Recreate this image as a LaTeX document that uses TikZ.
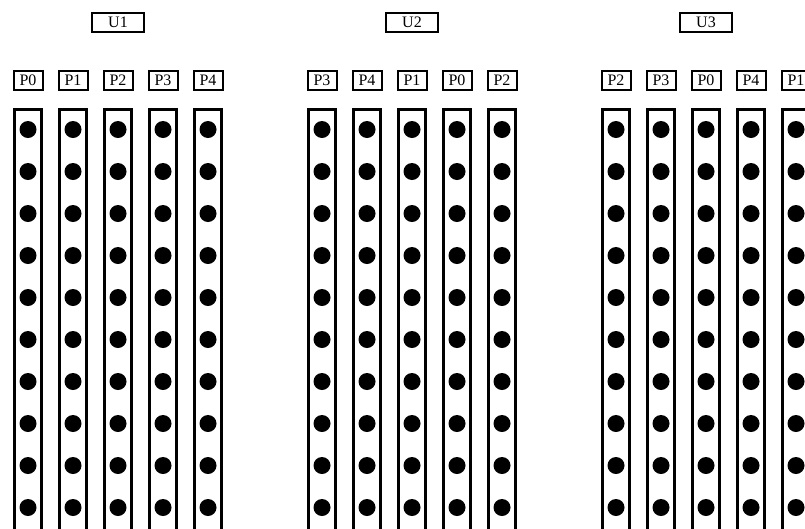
\documentclass[tikz,border=0pt]{standalone}
\usepackage{fontspec}
\setmainfont{Liberation Serif}
\usetikzlibrary{positioning}

\begin{document}
\begin{tikzpicture}[
    x=1pt, y=-1pt,
    every node/.style={font=\fontsize{16}{16}\selectfont},
    unitbox/.style={draw, line width=2pt, minimum width=52pt, minimum height=19pt, inner sep=0pt},
    portbox/.style={draw, line width=2pt, minimum width=29pt, minimum height=19pt, inner sep=0pt},
    slot/.style={draw, line width=3pt},
    pin/.style={fill=black},
]
\def\X#1#2{28 + #1*294 + #2*45}

\clip (0,0) rectangle (805,528);

% ---------------- units with their port columns
\foreach \g/\u/\ports in {0/U1/{P0,P1,P2,P3,P4}, 1/U2/{P3,P4,P1,P0,P2}, 2/U3/{P2,P3,P0,P4,P1}}{
    \node[unitbox] (\u) at ({\X{\g}{2}}, 22.5) {\u};
    \foreach \p [count=\i from 0] in \ports{
        \node[portbox] (\u-\p) at ({\X{\g}{\i}}, 80.5) {\p};
        \draw[slot] ({\X{\g}{\i} - 13.5}, 109.5) rectangle ({\X{\g}{\i} + 13.5}, 560);
        \foreach \k in {0,...,9}{
            \fill[pin] ({\X{\g}{\i}}, 129.5 + \k*42) circle (8.5pt);
        }
    }
}
\end{tikzpicture}
\end{document}
